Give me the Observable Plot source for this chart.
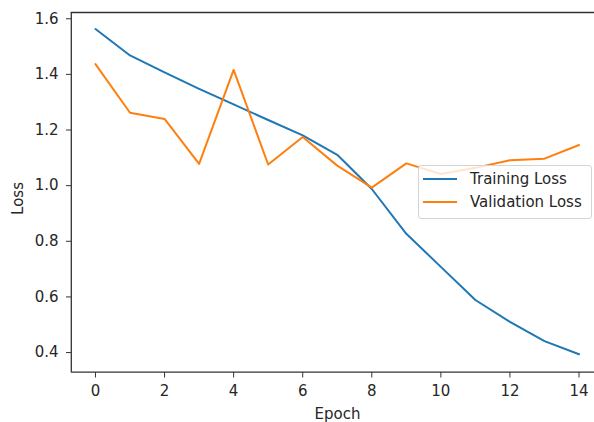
<!DOCTYPE html>
<html>
<head>
<meta charset="utf-8">
<script src="https://cdn.jsdelivr.net/npm/d3@7"></script>
<script src="https://cdn.jsdelivr.net/npm/@observablehq/plot@0.6"></script>
<style>
  html, body { margin: 0; padding: 0; background: #fff; }
  #wrap { position: relative; width: 594px; height: 422px; overflow: hidden; }
  #wrap svg { display: block; }
  #legend {
    position: absolute; left: 418px; top: 165px; width: 174px; height: 54px;
    box-sizing: border-box; border: 1px solid #d4d4d4; border-radius: 3px;
    background: rgba(255,255,255,0.8);
    font-family: "DejaVu Sans", sans-serif; font-size: 15px; color: #262626;
  }
  .item { position: absolute; left: 0; height: 20px; line-height: 20px; white-space: nowrap; }
  .swatch { position: absolute; left: 4px; width: 34px; height: 0; border-top: 2px solid; top: 9px; }
  .lbl { position: absolute; left: 51px; top: 0; }
</style>
</head>
<body>
<div id="wrap"><div id="legend"></div></div>
<script>
const epochs = [0, 1, 2, 3, 4, 5, 6, 7, 8, 9, 10, 11, 12, 13, 14];
const trainingLoss = [1.563, 1.468, 1.407, 1.348, 1.292, 1.236, 1.181, 1.111, 0.988, 0.827, 0.708, 0.589, 0.510, 0.441, 0.394];
const validationLoss = [1.437, 1.262, 1.240, 1.078, 1.416, 1.076, 1.175, 1.072, 0.993, 1.080, 1.042, 1.064, 1.091, 1.097, 1.146];
const seriesNames = ["Training Loss", "Validation Loss"];
const seriesColors = ["#1f77b4", "#ff7f0e"];
const xTicks = [0, 2, 4, 6, 8, 10, 12, 14];
const yTicks = [0.4, 0.6, 0.8, 1.0, 1.2, 1.4, 1.6];

const rows = [];
epochs.forEach((e, i) => {
  rows.push({epoch: e, loss: trainingLoss[i], series: seriesNames[0]});
  rows.push({epoch: e, loss: validationLoss[i], series: seriesNames[1]});
});

const xDomain = [-0.7, 14.7];
const yDomain = [0.3294, 1.6225];
const axisColor = "#333";
const font = "DejaVu Sans, sans-serif";
const fs = 15;

const chart = Plot.plot({
  width: 594,
  height: 422,
  marginLeft: 71,
  marginRight: -9,
  marginTop: 12,
  marginBottom: 50,
  style: {fontFamily: font, fontSize: fs + "px", color: "#262626", background: "#fff", overflow: "hidden"},
  x: {domain: xDomain, range: [70.8, 602.7]},
  y: {domain: yDomain, range: [371.7, 12]},
  color: {domain: seriesNames, range: seriesColors},
  marks: [
    Plot.line(rows, {x: "epoch", y: "loss", stroke: "series", z: "series", strokeWidth: 2, strokeLinejoin: "round"}),
    Plot.ruleY([yDomain[0]], {x1: xDomain[0], x2: xDomain[1], stroke: axisColor, strokeWidth: 1.3}),
    Plot.ruleY([yDomain[1]], {x1: xDomain[0], x2: xDomain[1], stroke: axisColor, strokeWidth: 1.3}),
    Plot.ruleX([xDomain[0]], {y1: yDomain[0], y2: yDomain[1], stroke: axisColor, strokeWidth: 1.3}),
    Plot.axisX({ticks: xTicks, tickSize: 5.5, tickPadding: 7, label: null, stroke: axisColor, fontSize: fs}),
    Plot.axisY({ticks: yTicks, tickSize: 5, tickPadding: 8, tickFormat: d3.format(".1f"), label: null, stroke: axisColor, fontSize: fs}),
    Plot.text(["Epoch"], {frameAnchor: "bottom", lineAnchor: "middle", dy: 42, fontSize: fs, fill: "#262626"}),
    Plot.text(["Loss"], {frameAnchor: "left", textAnchor: "middle", lineAnchor: "middle", dx: -53, dy: 6, rotate: -90, fontSize: fs, fill: "#262626"})
  ]
});
document.getElementById("wrap").prepend(chart);

const legend = document.getElementById("legend");
seriesNames.forEach((name, i) => {
  const item = document.createElement("div");
  item.className = "item";
  item.style.top = (3 + i * 23) + "px";
  const sw = document.createElement("div");
  sw.className = "swatch";
  sw.style.borderTopColor = seriesColors[i];
  const lb = document.createElement("div");
  lb.className = "lbl";
  lb.textContent = name;
  item.appendChild(sw);
  item.appendChild(lb);
  legend.appendChild(item);
});
</script>
</body>
</html>
